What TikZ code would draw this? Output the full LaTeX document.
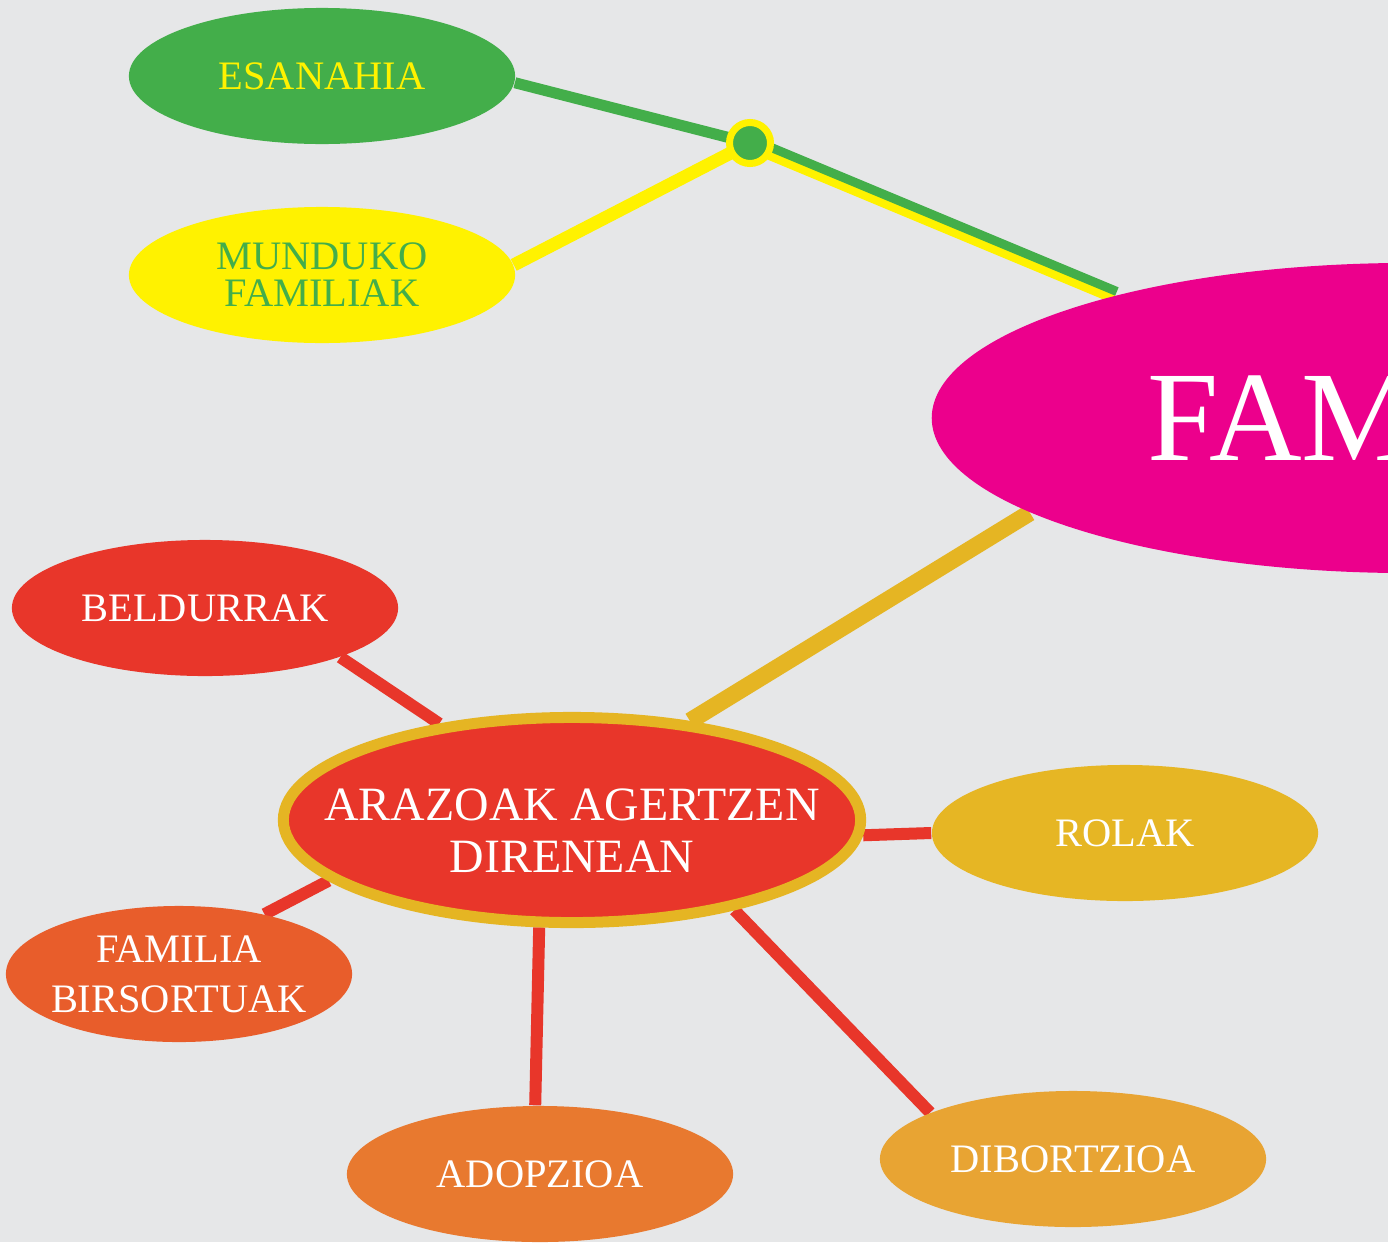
\documentclass[tikz,border=0pt]{standalone}
\usepackage{fontspec}
\setmainfont{Liberation Serif}
\usetikzlibrary{shapes.geometric}
\pgfdeclarelayer{bg}
\pgfsetlayers{bg,main}
\definecolor{bggray}{HTML}{E6E7E8}
\definecolor{esgreen}{HTML}{43AE4A}
\definecolor{esyellow}{HTML}{FFF200}
\definecolor{fammag}{HTML}{EC008C}
\definecolor{gold}{HTML}{E5B523}
\definecolor{arared}{HTML}{E8362A}
\definecolor{birsor}{HTML}{E85D2B}
\definecolor{adopor}{HTML}{E8792F}
\definecolor{dibor}{HTML}{E8A433}
\definecolor{rolgold}{HTML}{E6B624}
\tikzset{
  topic/.style={
    ellipse,inner ysep=0pt,inner xsep=-0.3cm,minimum width=3.86cm,minimum height=1.36cm,
    text=white,align=center,font=\fontsize{11.5}{10.5}\selectfont,
  },
  redlink/.style={draw=arared,line width=0.12cm},
}

\begin{document}
\begin{tikzpicture}[x=0.01cm,y=-0.01cm]
      \useasboundingbox (0,0) rectangle (1388,1242);
      \clip (0,0) rectangle (1388,1242);

      \node[ellipse,fill=fammag,text=white,minimum width=9.56cm,minimum height=3.1cm,font=\fontsize{36.5}{40}\selectfont] (fam) at (1410,418) {FAMILIA};
      \node[topic,fill=esgreen,text=esyellow] (esan) at (322,76) {ESANAHIA};
      \node[topic,fill=esyellow,text=esgreen] (mund) at (322,275) {MUNDUKO\\FAMILIAK};
      \node[circle,fill=esgreen,draw=esyellow,line width=0.07cm,minimum size=0.41cm,inner sep=0pt] (dot) at (750,143) {};

      \node[ellipse,fill=arared,draw=gold,line width=0.11cm,minimum width=5.77cm,minimum height=2.05cm,inner ysep=0pt,inner xsep=-0.8cm,text=white,align=center,font=\fontsize{13.6}{15}\selectfont] (araz) at (572,820) {\rule{0pt}{0.53cm}ARAZOAK AGERTZEN\\DIRENEAN};
      \node[topic,fill=arared] (beld) at (205,608) {BELDURRAK};
      \node[topic,fill=birsor,minimum width=3.46cm,font=\fontsize{11.5}{14.2}\selectfont] (birs) at (179,974) {FAMILIA\\BIRSORTUAK};
      \node[topic,fill=adopor] (adop) at (540,1174) {ADOPZIOA};
      \node[topic,fill=dibor] (dib) at (1073,1159) {DIBORTZIOA};
      \node[topic,fill=rolgold] (rolak) at (1125,833) {ROLAK};

      \begin{pgfonlayer}{bg}
      \fill[bggray] (0,0) rectangle (1388,1242);
      \path[draw=esgreen,line width=0.11cm] (esan.-2) -- (dot.center);
      \path[draw=esyellow,line width=0.13cm] (mund.3) -- (dot.center);
      \path[draw=esyellow,line width=0.09cm,transform canvas={shift={(-0.016cm,-0.037cm)}}] (dot.center) -- (fam);
      \path[draw=esgreen,line width=0.09cm,transform canvas={shift={(0.016cm,0.037cm)}}] (dot.center) -- (fam);
      \path[draw=gold,line width=0.17cm] (araz.40) -- (fam.194);
      \path[redlink] (beld.-20) -- (araz.144);
      \path[redlink] (araz.194) -- (birs.35);
      \path[redlink] (araz.253) -- (adop.94);
      \path[redlink] (araz.-29) -- (dib.162);
      \path[redlink] (araz.-3) -- (rolak.180);
      \end{pgfonlayer}
\end{tikzpicture}
\end{document}
